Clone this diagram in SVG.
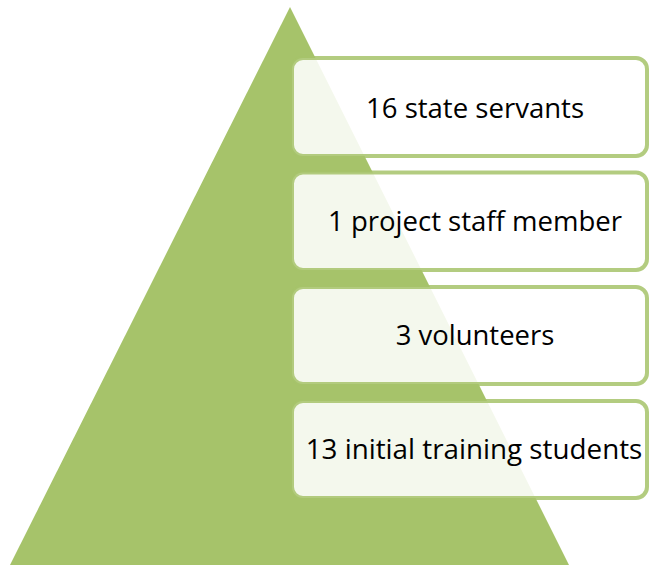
<svg xmlns="http://www.w3.org/2000/svg" width="651" height="565" viewBox="0 0 651 565">
  <style>
    .box { fill: #ffffff; fill-opacity: 0.88; stroke: #a6c36a; stroke-opacity: 0.85; stroke-width: 4; }
    .lbl { font-family: "Open Sans", "Liberation Sans", sans-serif; font-size: 28px; fill: #000000; text-anchor: middle; }
  </style>
  <rect width="651" height="565" fill="#ffffff"/>
  <g id="pyramid">
    <polygon points="290,7 569,565 10,565" fill="#a6c36a"/>
  </g>
  <g id="connectors"></g>
  <g id="level1">
    <rect class="box" x="292" y="58" width="355" height="98" rx="11"/>
    <text class="lbl" x="475" y="118" textLength="218" lengthAdjust="spacingAndGlyphs">16 state servants</text>
  </g>
  <g id="level2">
    <rect class="box" x="292" y="172.5" width="355" height="97.5" rx="11"/>
    <text class="lbl" x="475" y="231" textLength="294" lengthAdjust="spacingAndGlyphs">1 project staff member</text>
  </g>
  <g id="level3">
    <rect class="box" x="292" y="287" width="355" height="97" rx="11"/>
    <text class="lbl" x="475" y="345" textLength="158.6" lengthAdjust="spacingAndGlyphs">3 volunteers</text>
  </g>
  <g id="level4">
    <rect class="box" x="292" y="401" width="355" height="97" rx="11"/>
    <text class="lbl" x="474" y="459" textLength="336.7" lengthAdjust="spacingAndGlyphs">13 initial training students</text>
  </g>
</svg>
